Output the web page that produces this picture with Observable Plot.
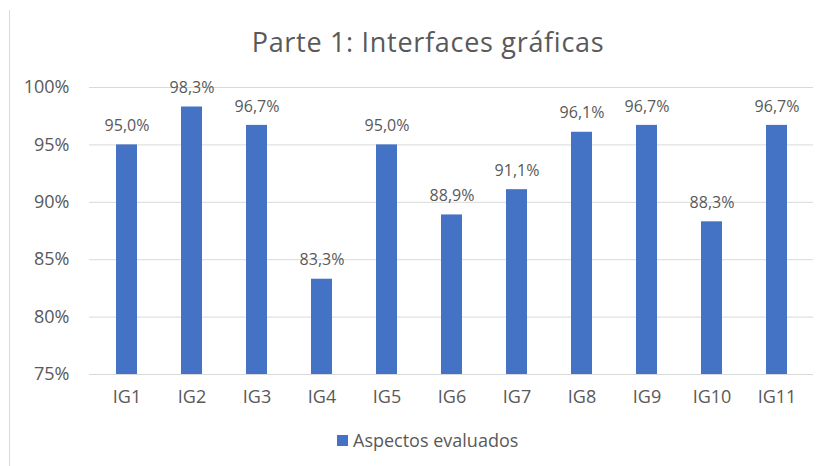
<!DOCTYPE html>
<html>
<head>
<meta charset="utf-8">
<script src="https://cdn.jsdelivr.net/npm/d3@7"></script>
<script src="https://cdn.jsdelivr.net/npm/@observablehq/plot@0.6"></script>
<style>
  html, body { margin: 0; padding: 0; background: #fff; }
  #wrap { position: relative; width: 824px; height: 466px; overflow: hidden; font-family: "Open Sans", sans-serif; color: #595959; }
  #border { position: absolute; left: 9px; top: 10px; width: 0; height: 460px; border-left: 1px solid #d9d9d9; }
  #title { position: absolute; left: 16px; width: 824px; top: 24px; text-align: center; font-size: 27px; line-height: 36px; letter-spacing: 0.7px; color: #595959; }
  #chart { position: absolute; left: 0; top: 0; }
  #legend { position: absolute; left: 337px; top: 428px; font-size: 18px; line-height: 24px; display: flex; align-items: center; }
  #legend .sw { width: 11px; height: 11px; background: #4472C4; margin-right: 5px; }
</style>
</head>
<body>
<div id="wrap">
  <div id="border"></div>
  <div id="chart"></div>
  <div id="title">Parte 1: Interfaces gráficas</div>
  <div id="legend"><span class="sw"></span><span>Aspectos evaluados</span></div>
</div>
<script>
const categories = ["IG1","IG2","IG3","IG4","IG5","IG6","IG7","IG8","IG9","IG10","IG11"];
const values = [95.0, 98.3, 96.7, 83.3, 95.0, 88.9, 91.1, 96.1, 96.7, 88.3, 96.7];
const yTicks = [75, 80, 85, 90, 95, 100];
const seriesName = "Aspectos evaluados";

const data = categories.map((c, i) => ({cat: c, v: values[i]}));

const chart = Plot.plot({
  width: 824,
  height: 420,
  marginTop: 87,
  marginBottom: 46,
  marginLeft: 89,
  marginRight: 11,
  style: {fontFamily: "'Open Sans', sans-serif", fontSize: "18px", color: "#595959", background: "transparent"},
  x: {domain: categories, paddingInner: 0.68, paddingOuter: 0.35, label: null, tickSize: 0, tickPadding: 16},
  y: {domain: [75, 100], ticks: yTicks, tickFormat: d => d + "%", label: null, tickSize: 0, tickPadding: 20},
  marks: [
    Plot.ruleY(yTicks, {stroke: "#d9d9d9", strokeWidth: 1}),
    Plot.barY(data, {x: "cat", y1: 75, y2: "v", fill: "#4472C4"}),
    Plot.text(data, {x: "cat", y: "v", text: d => d.v.toFixed(1).replace(".", ",") + "%", dy: -19, fill: "#595959", fontSize: 16})
  ]
});
document.getElementById("chart").appendChild(chart);
</script>
</body>
</html>
